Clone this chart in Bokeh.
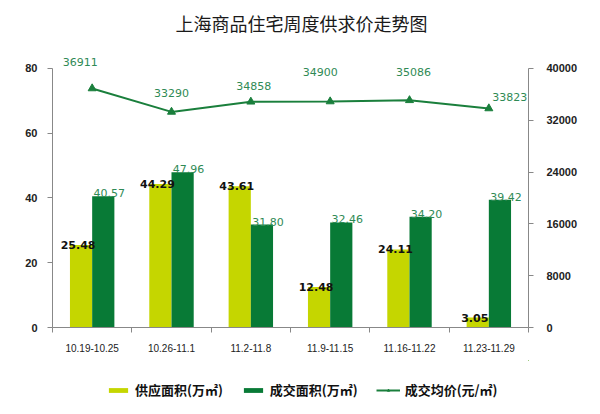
import numpy as np
from bokeh.plotting import figure
from bokeh.layouts import column
from bokeh.models import (ColumnDataSource, LinearAxis, Range1d, FixedTicker,
                          Legend, LegendItem, Label)
from bokeh.core.properties import value
from bokeh.transform import dodge
from bokeh.embed import file_html
from bokeh.resources import INLINE

# ---- data ----
title_text = "上海商品住宅周度供求价走势图"
categories = ["10.19-10.25", "10.26-11.1", "11.2-11.8", "11.9-11.15", "11.16-11.22", "11.23-11.29"]
supply_area = [25.48, 44.29, 43.61, 12.48, 24.11, 3.05]      # 供应面积(万㎡)
deal_area = [40.57, 47.96, 31.80, 32.46, 34.20, 39.42]       # 成交面积(万㎡)
avg_price = [36911, 33290, 34858, 34900, 35086, 33823]       # 成交均价(元/㎡)
left_ticks = [0, 20, 40, 60, 80]
right_ticks = [0, 8000, 16000, 24000, 32000, 40000]
legend_labels = ["供应面积(万㎡)", "成交面积(万㎡)", "成交均价(元/㎡)"]

# ---- styles ----
YELLOW = "#c5d600"
GREEN = "#087a36"
LINE_GREEN = "#1a7f3c"
LABEL_GREEN = "#2f8a55"
FONT = "Noto Sans CJK SC"
NUMFONT = "DejaVu Sans"
BAR_W = 0.28
HEADROOM = 1.05   # extra range above the top tick so labels above it are not clipped
PRICE_DX = [-12, 0, 3, -10, 4, 21]
PRICE_DY = [-26, -19, -16, -29, -28, -11]
W = 584

n = len(categories)
src = ColumnDataSource(dict(
    x=list(np.arange(n) + 0.5),
    supply=supply_area,
    deal=deal_area,
    price=avg_price,
    supply_lbl=[f"{v:.2f}" for v in supply_area],
    deal_lbl=[f"{v:.2f}" for v in deal_area],
    price_lbl=[str(v) for v in avg_price],
    pdx=PRICE_DX,
    pdy=PRICE_DY,
))


def strip(h):
    # frame is aligned with the main chart's frame by the column layout
    f = figure(width=W, height=h, output_backend="svg", toolbar_location=None,
               x_range=Range1d(-2, -1), y_range=Range1d(-2, -1),
               min_border_left=0, min_border_right=0, min_border_top=0, min_border_bottom=0)
    f.axis.visible = False
    f.grid.visible = False
    f.outline_line_color = None
    f.background_fill_color = "white"
    f.border_fill_color = "white"
    return f


# ---- title strip ----
top = strip(40)
top.add_layout(Label(x=249, y=18, x_units="screen", y_units="screen", text=title_text,
                     text_align="center", text_baseline="middle", text_font=FONT,
                     text_font_size="18px", text_color="#1a1a1a"))

# ---- main chart ----
p = figure(width=W, height=320, output_backend="svg", toolbar_location=None,
           x_range=Range1d(0, n),
           y_range=Range1d(left_ticks[0], left_ticks[-1] * HEADROOM),
           min_border_left=52, min_border_right=56, min_border_top=15, min_border_bottom=33)
p.extra_y_ranges = {"price": Range1d(right_ticks[0], right_ticks[-1] * HEADROOM)}
p.outline_line_color = None
p.grid.visible = False
p.background_fill_color = "white"
p.border_fill_color = "white"

r_sup = p.vbar(x=dodge("x", -BAR_W / 2), top="supply", width=BAR_W, source=src,
               fill_color=YELLOW, line_color=None)
r_deal = p.vbar(x=dodge("x", BAR_W / 2), top="deal", width=BAR_W, source=src,
                fill_color=GREEN, line_color=None)
r_line = p.line(x="x", y="price", source=src, y_range_name="price",
                line_color=LINE_GREEN, line_width=2)
r_mark = p.scatter(x="x", y="price", source=src, y_range_name="price", marker="triangle",
                   size=8, fill_color=LINE_GREEN, line_color=LINE_GREEN)

p.text(x=dodge("x", -BAR_W / 2), y="supply", text="supply_lbl", source=src,
       text_align="center", text_baseline="middle", text_font=value(NUMFONT),
       text_font_size="11px", text_font_style="bold", text_color="#111111", x_offset=-3)
p.text(x=dodge("x", BAR_W / 2), y="deal", text="deal_lbl", source=src,
       text_align="center", text_baseline="middle", text_font=value(NUMFONT),
       text_font_size="11px", text_color=LABEL_GREEN, x_offset=6, y_offset=-3)
p.text(x="x", y="price", text="price_lbl", source=src, y_range_name="price",
       text_align="center", text_baseline="middle", x_offset="pdx", y_offset="pdy",
       text_font=value(NUMFONT), text_font_size="11px", text_color=LABEL_GREEN)

xa = p.xaxis[0]
xa.ticker = FixedTicker(ticks=list(np.arange(n) + 0.5), minor_ticks=list(range(n + 1)))
xa.major_label_overrides = {float(i + 0.5): c for i, c in enumerate(categories)}
xa.major_tick_line_color = None
xa.minor_tick_line_color = "#888888"
xa.minor_tick_out = 5
xa.minor_tick_in = 0
xa.axis_line_color = "#888888"
xa.major_label_text_font_size = "10px"
xa.major_label_text_color = "#222222"
xa.major_label_standoff = 10

ya = p.yaxis[0]
ya.ticker = FixedTicker(ticks=left_ticks)
ya.bounds = (left_ticks[0], left_ticks[-1])
ya.minor_tick_line_color = None
ya.major_tick_out = 5
ya.major_tick_in = 0
ya.major_tick_line_color = "#888888"
ya.axis_line_color = "#888888"
ya.major_label_text_font_size = "11px"
ya.major_label_text_font_style = "bold"
ya.major_label_text_color = "#222222"
ya.major_label_standoff = 10

ra = LinearAxis(y_range_name="price", ticker=FixedTicker(ticks=right_ticks),
                bounds=(right_ticks[0], right_ticks[-1]))
ra.minor_tick_line_color = None
ra.major_tick_out = 5
ra.major_tick_in = 0
ra.major_tick_line_color = "#888888"
ra.axis_line_color = "#888888"
ra.major_label_text_font_size = "11px"
ra.major_label_text_font_style = "bold"
ra.major_label_text_color = "#222222"
ra.major_label_standoff = 13
p.add_layout(ra, "right")

# ---- legend strip (same series, drawn outside this strip's visible range) ----
lg = strip(44)
lg_sup = lg.vbar(x="x", top="supply", source=src, width=BAR_W,
                 fill_color=YELLOW, line_color=None)
lg_deal = lg.vbar(x="x", top="deal", source=src, width=BAR_W,
                  fill_color=GREEN, line_color=None)
lg_line = lg.line(x="x", y="supply", source=src, line_color=LINE_GREEN, line_width=2)
lg_mark = lg.scatter(x="x", y="supply", source=src, marker="triangle", size=7,
                     fill_color=LINE_GREEN, line_color=LINE_GREEN)

legend = Legend(items=[
    LegendItem(label=legend_labels[0], renderers=[lg_sup]),
    LegendItem(label=legend_labels[1], renderers=[lg_deal]),
    LegendItem(label=legend_labels[2], renderers=[lg_line, lg_mark]),
], orientation="horizontal", location=(54, 5), border_line_color=None,
    background_fill_alpha=0,
    label_text_font=FONT, label_text_font_size="13px", label_text_font_style="bold",
    label_text_color="#111111", glyph_width=24, glyph_height=6, spacing=18,
    label_standoff=5, margin=0, padding=2)
lg.add_layout(legend, "center")

layout = column(top, p, lg, spacing=0)
html = file_html(layout, INLINE)
open("out.html", "w").write(html)
